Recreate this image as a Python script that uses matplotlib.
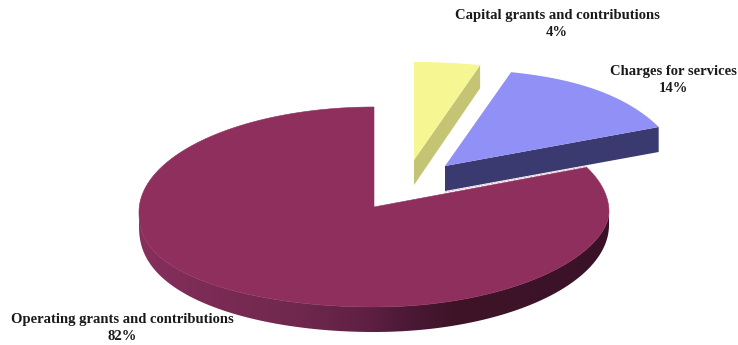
import numpy as np
import matplotlib
matplotlib.use("Agg")
import matplotlib.pyplot as plt
from matplotlib.colors import to_rgb
from matplotlib.patches import Polygon

labels = ["Capital grants and contributions", "Charges for services", "Operating grants and contributions"]
shares = [4, 14, 82]

top_colors = ["#f6f693", "#9090f6", "#8f2f5e"]
wall_colors = ["#c4c474", "#3a3a70"]
label_pos = [(557, 15), (673, 71), (122, 320)]

# Pixel geometry of the three slices
CX, RX = 374, 235
TOP_CY, TOP_RY = 212, 105
LOW_CY, LOW_RY = 225, 107
BLUE_APEX, YELLOW_APEX = (445, 166), (414, 160)
DEPTH = 25
# Wall shading across the main slice, left to right
shade_x = [139, 210, 297, 370, 400, 450, 609]
shade_c = ["#87305d", "#7b2b55", "#70284e", "#5e1f43", "#4f1a38", "#3f1429", "#3a1228"]

plt.rcParams["font.family"] = ["Liberation Serif", "DejaVu Serif"]
fig = plt.figure(figsize=(7.38, 3.45), dpi=100)
ax = fig.add_axes([0, 0, 1, 1])
ax.set_xlim(0, 738)
ax.set_ylim(345, 0)
ax.axis("off")

edges = np.cumsum([0] + shares) / sum(shares) * 2 * np.pi


def main_rim(t, cy, ry, p_left, p_right):
    """Main disc outline, angles clockwise from north; near side is slightly skewed."""
    s, c = np.sin(t), np.cos(t)
    near = np.where(s < 0, p_left, p_right)
    down = np.where(c < 0, np.abs(c) ** near, c)
    return np.column_stack([CX + RX * s, np.where(c < 0, cy + ry * down, TOP_CY - TOP_RY * c)])


def far_rim(apex, t, lift):
    """Rim of an exploded slice, fanned out a little towards the back."""
    s, c = np.sin(t), np.cos(t)
    return np.column_stack([apex[0] + RX * s + 35 * s * c ** 4, apex[1] + lift - 101 * c])


# Main slice: curved near wall with a horizontal gradient, then the top face
t_near = np.linspace(np.pi / 2, 3 * np.pi / 2, 500)
upper = main_rim(t_near, TOP_CY, TOP_RY - 10 + 0, 0.85, 1.1)
lower = main_rim(t_near, LOW_CY, LOW_RY, 0.85, 1.0)
wall = Polygon(np.vstack([upper, lower[::-1]]), closed=True, transform=ax.transData,
               facecolor="none", edgecolor="none")
ax.add_patch(wall)
xs = np.linspace(139, 609, 470)
rgb = np.array([to_rgb(c) for c in shade_c])
grad = np.stack([np.interp(xs, shade_x, rgb[:, i]) for i in range(3)], axis=-1)[None, :, :]
im = ax.imshow(grad, extent=(139, 609, 345, 90), aspect="auto", zorder=1, interpolation="bilinear")
im.set_clip_path(wall)
ax.set_xlim(0, 738)
ax.set_ylim(345, 0)

t_main = np.linspace(edges[2], edges[3], 900)
rim_main = main_rim(t_main, TOP_CY, TOP_RY - 10, 0.85, 1.1)
apex_main = (CX, 207)
ax.add_patch(Polygon(np.vstack([apex_main, rim_main]), closed=True, facecolor=top_colors[2],
                     edgecolor=top_colors[2], lw=0.4, zorder=2))

# Charges for services: straight wall along the near cut edge
rim_blue = far_rim(BLUE_APEX, np.linspace(edges[1], edges[2], 200), 4)
ax.add_patch(Polygon([BLUE_APEX, rim_blue[-1], rim_blue[-1] + [0, DEPTH],
                      (BLUE_APEX[0], BLUE_APEX[1] + DEPTH)],
                     closed=True, facecolor=wall_colors[1], edgecolor="none", zorder=3))
ax.add_patch(Polygon(np.vstack([BLUE_APEX, rim_blue]), closed=True, facecolor=top_colors[1],
                     edgecolor="none", zorder=4))
# Pale seam where the blue wall meets the main disc
ax.plot([BLUE_APEX[0], rim_main[0, 0]], [BLUE_APEX[1] + DEPTH + 1, rim_main[0, 1] - 1],
        color="#d9bccb", lw=0.8, ls=(0, (2, 1)), zorder=3.5)

# Capital grants: straight wall along the right cut edge
rim_yellow = far_rim(YELLOW_APEX, np.linspace(edges[0], edges[1], 100), 3)
ax.add_patch(Polygon([YELLOW_APEX, rim_yellow[-1], rim_yellow[-1] + [0, DEPTH - 2],
                      (YELLOW_APEX[0], YELLOW_APEX[1] + DEPTH)],
                     closed=True, facecolor=wall_colors[0], edgecolor="none", zorder=3))
ax.add_patch(Polygon(np.vstack([YELLOW_APEX, rim_yellow]), closed=True, facecolor=top_colors[0],
                     edgecolor="none", zorder=4))

for name, share, (x, y) in zip(labels, shares, label_pos):
    ax.text(x, y, name, ha="center", va="center", fontsize=10.5, fontweight="bold",
            color="#1a1a1a", zorder=5)
    ax.text(x, y + 17, f"{share}%", ha="center", va="center", fontsize=10.5,
            fontweight="bold", color="#1a1a1a", zorder=5)

fig.savefig("out.png", dpi=100, facecolor="white")
